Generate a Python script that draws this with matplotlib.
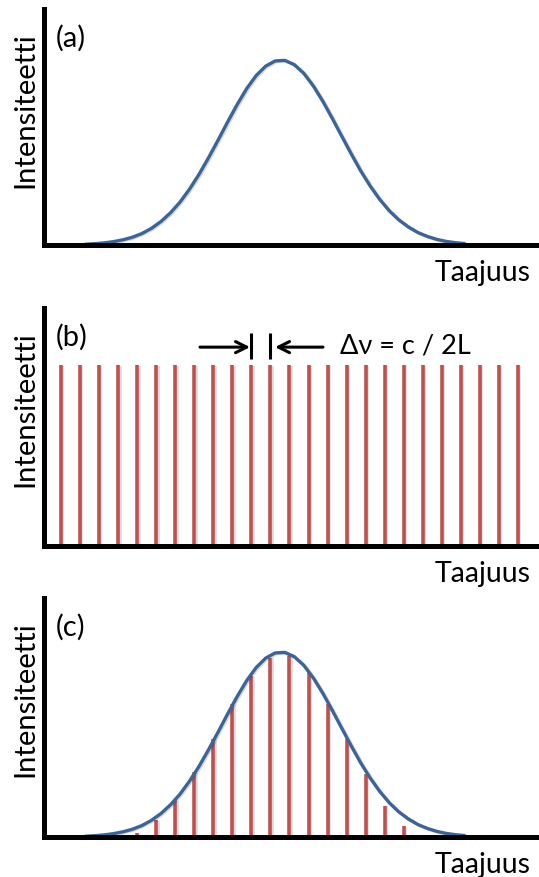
import numpy as np
import matplotlib
matplotlib.use('Agg')
import matplotlib.pyplot as plt
import matplotlib.patheffects as pe

plt.rcParams['font.family'] = ['Lato', 'DejaVu Sans']

# mode positions (in units of the mode spacing)
modes = list(range(25))
gain_modes = list(range(4, 19))
comb_height = 0.98
# heights of the modes under the gain curve, panel (c)
gain_heights = [0.02, 0.09, 0.20, 0.35, 0.53, 0.72, 0.87, 0.97,
                0.98, 0.89, 0.72, 0.53, 0.34, 0.17, 0.06]

# gain curve
curve_x = [1.25, 1.75, 2.25, 2.75, 3.25, 3.75, 4.25, 4.75, 5.25, 5.75,
           6.25, 6.75, 7.25, 7.75, 8.25, 8.75, 9.25, 9.75, 10.25, 10.75,
           11.25, 11.75, 12.25, 12.75, 13.25, 13.75, 14.25, 14.75, 15.25,
           15.75, 16.25, 16.75, 17.25, 17.75, 18.25, 18.75, 19.25, 19.75,
           20.25, 20.75, 21.25]
curve_y = [0.004, 0.007, 0.011, 0.018, 0.028, 0.042, 0.062, 0.090, 0.127,
           0.174, 0.232, 0.302, 0.382, 0.472, 0.567, 0.665, 0.759, 0.845,
           0.916, 0.967, 0.995, 0.998, 0.975, 0.928, 0.860, 0.777, 0.684,
           0.587, 0.491, 0.399, 0.317, 0.245, 0.184, 0.135, 0.097, 0.067,
           0.046, 0.030, 0.019, 0.012, 0.0075]

panel_labels = ['(a)', '(b)', '(c)']
ylabel = 'Intensiteetti'
xlabel = 'Taajuus'
spacing_label = 'Δν = c / 2L'

RED = '#C0504D'
BLUE = '#3B6596'

W, H = 539, 877
fig = plt.figure(figsize=(W / 100, H / 100), dpi=100)

PX_PER_UNIT = 185.0
# (top, bottom) of each panel in pixels
panels = [(9, 245), (308, 546), (598, 837)]
x_left, x_right = 44, 539
mode0_px, mode_dx = 61.0, 19.04

shadow = [pe.SimplePatchShadow(offset=(1.5, -1.5), alpha=0.2), pe.Normal()]
lshadow = [pe.SimpleLineShadow(offset=(1.0, -0.6), alpha=0.15), pe.Normal()]

axes = []
for i, (top, bot) in enumerate(panels):
    ax = fig.add_axes([x_left / W, 1 - bot / H, (x_right - x_left) / W, (bot - top) / H])
    ax.set_xlim((x_left - mode0_px) / mode_dx, (x_right - mode0_px) / mode_dx)
    ax.set_ylim(0, (bot - top) / PX_PER_UNIT)
    for s in ['top', 'right']:
        ax.spines[s].set_visible(False)
    for s in ['left', 'bottom']:
        ax.spines[s].set_linewidth(3.6)
        ax.spines[s].set_capstyle('projecting')
        ax.spines[s].set_path_effects(shadow)
    ax.set_xticks([])
    ax.set_yticks([])
    ax.patch.set_alpha(0)
    axes.append(ax)

    fig.text(25 / W, 1 - (top + 101) / H, ylabel, rotation=90, fontsize=21,
             ha='center', va='center')
    fig.text(56 / W, 1 - (top + 29) / H, panel_labels[i], fontsize=21,
             ha='left', va='center')
    fig.text(531 / W, 1 - (bot + 28) / H, xlabel, fontsize=20.5,
             ha='right', va='center')

ax_a, ax_b, ax_c = axes

ax_a.plot(curve_x, curve_y, color=BLUE, lw=2.4, solid_capstyle='butt', path_effects=lshadow)

ax_b.vlines(modes, 0, comb_height, color=RED, lw=2.6, path_effects=lshadow)
# spacing marker
ax_b.vlines([10, 11], 1.01, 1.15, color='black', lw=2.2)
ax_b.annotate('', xy=(9.93, 1.075), xytext=(7.3, 1.075),
              arrowprops=dict(arrowstyle='->', lw=2.2, color='black',
                              mutation_scale=20, shrinkA=0, shrinkB=0))
ax_b.annotate('', xy=(11.24, 1.075), xytext=(13.76, 1.075),
              arrowprops=dict(arrowstyle='->', lw=2.2, color='black',
                              mutation_scale=20, shrinkA=0, shrinkB=0))
ax_b.text(14.65, 1.08, spacing_label, fontsize=19.5, ha='left', va='center')

ax_c.vlines(gain_modes, 0, gain_heights, color=RED, lw=2.6, path_effects=lshadow)
ax_c.plot(curve_x, curve_y, color=BLUE, lw=2.4, solid_capstyle='butt', path_effects=lshadow)

fig.savefig('out.png', dpi=100)
